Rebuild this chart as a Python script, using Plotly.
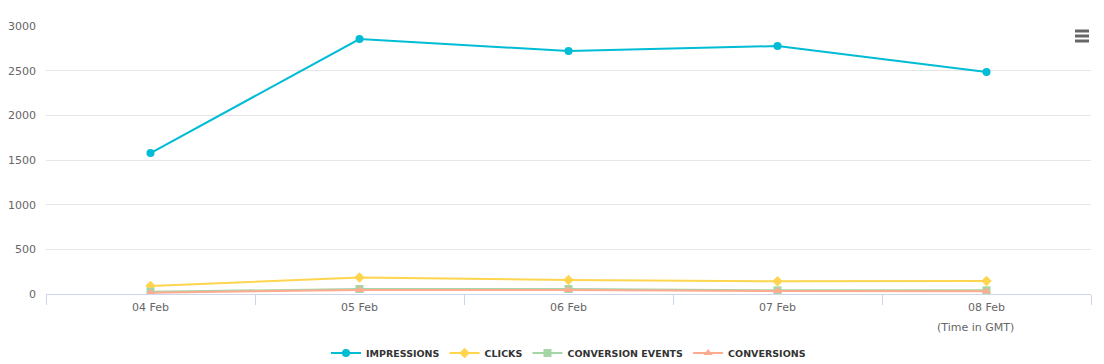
import plotly.graph_objects as go

categories = ["04 Feb", "05 Feb", "06 Feb", "07 Feb", "08 Feb"]
impressions = [1578, 2854, 2720, 2776, 2485]
clicks = [90, 184, 157, 142, 145]
conversion_events = [25, 56, 56, 41, 41]
conversions = [15, 45, 45, 34, 32]
y_ticks = [0, 500, 1000, 1500, 2000, 2500, 3000]

series = [
    ("IMPRESSIONS", impressions, "#00bcd4", "circle"),
    ("CLICKS", clicks, "#ffd54f", "diamond"),
    ("CONVERSION EVENTS", conversion_events, "#a5d6a7", "square"),
    ("CONVERSIONS", conversions, "#ffab91", "triangle-up"),
]

fig = go.Figure()
for name, vals, color, sym in series:
    fig.add_trace(go.Scatter(
        x=categories, y=vals, name=name, mode="lines+markers",
        line=dict(color=color, width=2),
        marker=dict(color=color, symbol=sym, size=8),
    ))

font = "DejaVu Sans, Lucida Grande, sans-serif"
fig.update_layout(
    width=1104, height=364,
    margin=dict(l=46, r=13, t=26, b=70, autoexpand=False),
    paper_bgcolor="white", plot_bgcolor="white",
    font=dict(family=font, size=11, color="#666666"),
    showlegend=True,
    legend=dict(orientation="h", x=0.5, xanchor="center", y=11 / 364, yref="container",
                yanchor="middle",
                font=dict(family=font, size=9.5, color="#333333", weight="bold"),
                itemwidth=30, tracegroupgap=0),
    xaxis=dict(type="category", range=[-0.5, 4.5], tickson="boundaries",
               ticks="outside", ticklen=10, tickcolor="#ccd6eb", automargin=False,
               showline=True, linecolor="#ccd6eb", linewidth=1, ticklabelstandoff=3,
               showgrid=False, tickfont=dict(size=11, color="#666666")),
    yaxis=dict(range=[0, 3000], tickvals=y_ticks, showgrid=True, gridcolor="#e6e6e6",
               zeroline=False, tickfont=dict(size=11, color="#666666"), ticks="",
               ticklabelstandoff=9, automargin=False),
    annotations=[dict(text="(Time in GMT)", xref="paper", yref="paper",
                      x=(975 - 46) / 1045, y=-0.095, xanchor="center", yanchor="top",
                      showarrow=False, font=dict(size=11, color="#666666"))],
)

# hamburger menu icon
for yy in [31, 36, 41]:
    fig.add_shape(type="line", xref="paper", yref="paper",
                  x0=(1075 - 46) / 1045, x1=(1089 - 46) / 1045,
                  y0=(294 - yy) / 268, y1=(294 - yy) / 268,
                  line=dict(color="#666666", width=3))

fig.write_html("out.html", config={"displayModeBar": False},
               post_script="document.body.style.margin='0';")
